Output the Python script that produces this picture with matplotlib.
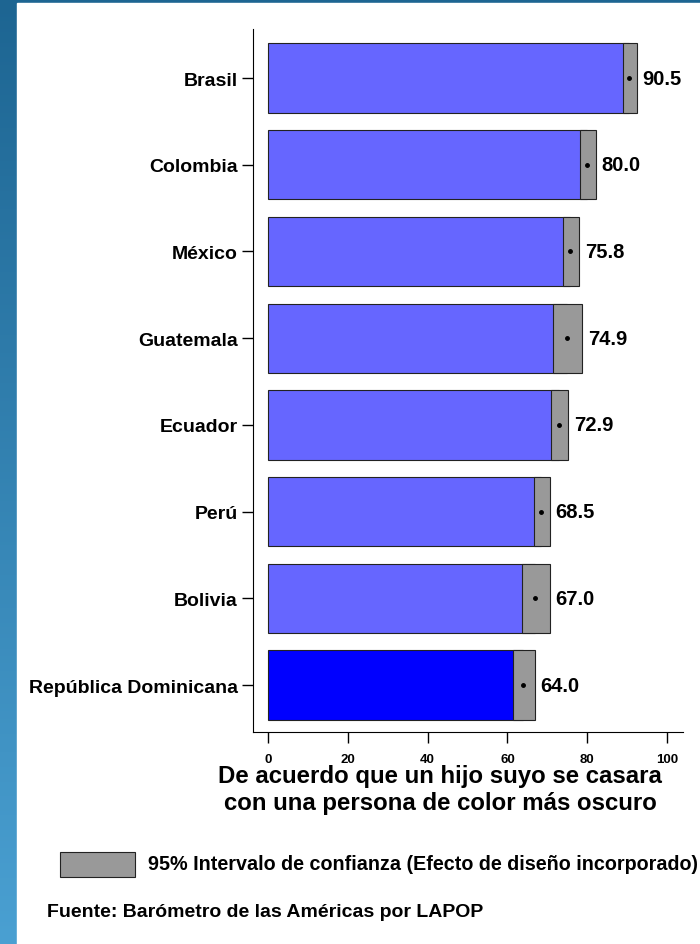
import numpy as np
import matplotlib.pyplot as plt
from matplotlib.patches import Rectangle
from matplotlib.colors import LinearSegmentedColormap

plt.rcParams['font.family'] = ['Liberation Sans', 'DejaVu Sans']
plt.rcParams['font.weight'] = 'bold'

# Datos
paises = ['Brasil', 'Colombia', 'México', 'Guatemala', 'Ecuador',
          'Perú', 'Bolivia', 'República Dominicana']
media = [90.5, 80.0, 75.8, 74.9, 72.9, 68.5, 67.0, 64.0]
ic_bajo = [89.0, 78.2, 73.9, 71.4, 70.8, 66.6, 63.6, 61.3]
ic_alto = [92.4, 82.1, 77.9, 78.6, 75.2, 70.6, 70.6, 66.8]
colores = ['#6666FF'] * 7 + ['#0000FF']

fig = plt.figure(figsize=(7, 9.45), dpi=100)

# Fondo: franja azul a la izquierda y arriba (degradado)
bg = fig.add_axes([0, 0, 1, 1], zorder=-10)
grad = np.linspace(0, 1, 256).reshape(-1, 1)
cmap = LinearSegmentedColormap.from_list('fondo', ['#4aa0d2', '#1d6592'])
bg.imshow(grad, aspect='auto', cmap=cmap, extent=[0, 1, 0, 1], origin='lower')
bg.add_patch(Rectangle((17 / 700, 0), 1, 1 - 4 / 945, color='white', zorder=2))
bg.set_xlim(0, 1)
bg.set_ylim(0, 1)
bg.axis('off')

ax = fig.add_axes([253 / 700, 1 - 733 / 945, 430 / 700, 703 / 945])
y = np.arange(len(paises))
ax.barh(y, media, height=0.8, color=colores, edgecolor='#222222', linewidth=0.8, zorder=2)
ancho = np.array(ic_alto) - np.array(ic_bajo)
ax.barh(y, ancho, left=ic_bajo, height=0.8, color='#999999',
        edgecolor='#222222', linewidth=0.8, zorder=3)
ax.plot(media, y, 'o', color='black', markersize=2.5, zorder=4)
for yi, hi, m in zip(y, ic_alto, media):
    ax.text(hi + 1.5, yi, f'{m:.1f}', va='center', ha='left',
            fontsize=14.5, fontweight='bold')

ax.set_ylim(7.54, -0.565)
ax.set_xlim(-3.76, 104)
ax.set_yticks(y)
ax.set_yticklabels(paises, fontsize=14, fontweight='bold')
ax.set_xticks([0, 20, 40, 60, 80, 100])
ax.set_xticklabels(['0', '20', '40', '60', '80', '100'], fontsize=9.5, fontweight='bold')
ax.tick_params(axis='both', length=8, width=1, direction='out', pad=3)
ax.tick_params(axis='x', pad=7)
ax.spines['top'].set_visible(False)
ax.spines['right'].set_visible(False)

fig.text(440 / 700, 1 - 790 / 945,
         'De acuerdo que un hijo suyo se casara\ncon una persona de color más oscuro',
         ha='center', va='center', fontsize=17.3, fontweight='bold', linespacing=1.2)

# Leyenda
fig.patches.append(Rectangle((60 / 700, 1 - 878 / 945), 75 / 700, 25 / 945,
                             transform=fig.transFigure, facecolor='#999999',
                             edgecolor='#222222', linewidth=0.8))
fig.text(148 / 700, 1 - 865 / 945,
         '95% Intervalo de confianza (Efecto de diseño incorporado)',
         ha='left', va='center', fontsize=14.2, fontweight='bold')
fig.text(47 / 700, 1 - 913 / 945, 'Fuente: Barómetro de las Américas por LAPOP',
         ha='left', va='center', fontsize=14, fontweight='bold')

fig.savefig('out.png', dpi=100)
